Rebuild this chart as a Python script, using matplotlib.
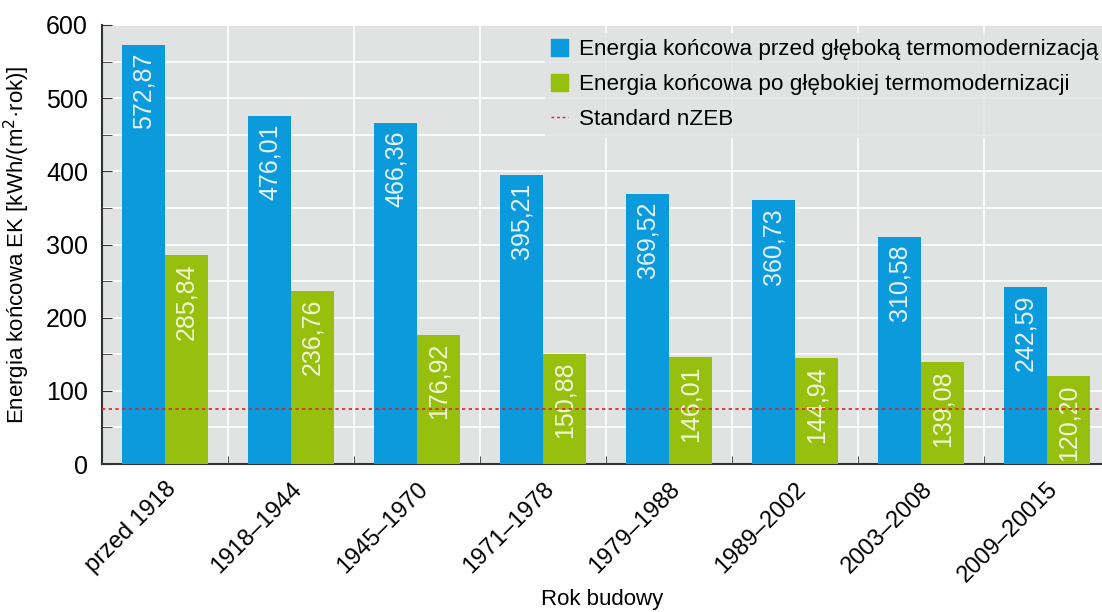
import matplotlib
matplotlib.use("Agg")
import matplotlib.pyplot as plt
import numpy as np
from matplotlib.ticker import MultipleLocator
from matplotlib.patches import Patch
from matplotlib.lines import Line2D

categories = ["przed 1918", "1918–1944", "1945–1970", "1971–1978", "1979–1988",
              "1989–2002", "2003–2008", "2009–20015"]
before = [572.87, 476.01, 466.36, 395.21, 369.52, 360.73, 310.58, 242.59]
after = [285.84, 236.76, 176.92, 150.88, 146.01, 144.94, 139.08, 120.20]
nzeb = 75

labels_series = ["Energia końcowa przed głęboką termomodernizacją",
                 "Energia końcowa po głębokiej termomodernizacji",
                 "Standard nZEB"]

plt.rcParams['font.family'] = ['Liberation Sans', 'DejaVu Sans']

blue = "#0B9ADB"
green = "#97BF0D"
bg = "#E1E2E2"

fig = plt.figure(figsize=(11.02, 6.12), dpi=100)
W, H = 1102, 612
x0, x1 = 102, 1102
y0, y1 = 464, 25
ax = fig.add_axes([x0 / W, 1 - y0 / H, (x1 - x0) / W, (y0 - y1) / H])
ax.set_facecolor(bg)

x = np.arange(len(categories))
bw = 0.34
ax.bar(x - bw / 2, before, bw, color=blue, zorder=3)
ax.bar(x + bw / 2, after, bw, color=green, zorder=3)

for xi, v in zip(x, before):
    ax.text(xi - bw / 2, v - 11, f"{v:.2f}".replace(".", ","), rotation=90,
            ha="center", va="top", color="#E3F3FB", fontsize=18, zorder=4)
for xi, v in zip(x, after):
    ax.text(xi + bw / 2, v - 11, f"{v:.2f}".replace(".", ","), rotation=90,
            ha="center", va="top", color="#F1F6D6", fontsize=18, zorder=4)

ax.axhline(nzeb, color="#D8232A", linestyle=(0, (2, 2)), linewidth=1.2, zorder=5)

ax.set_ylim(0, 600)
ax.set_xlim(-0.5, 7.5 - 8 / 126)
ax.yaxis.set_major_locator(MultipleLocator(100))
ax.yaxis.set_minor_locator(MultipleLocator(50))
ax.set_xticks(x)
ax.set_xticks(np.arange(0.5, 7.5, 1), minor=True)
ax.set_xticklabels(categories, rotation=45, ha="right", rotation_mode="anchor", fontsize=17)
ax.tick_params(axis="x", which="major", length=0, pad=10)
ax.tick_params(axis="x", which="minor", direction="in", length=6, color="#333333")
ax.tick_params(axis="y", which="both", direction="in", length=7, labelsize=18,
               color="#333333", pad=10)
ax.grid(True, axis="y", which="both", color="white", linewidth=1.2, zorder=1)
ax.grid(True, axis="x", which="minor", color="white", linewidth=1.2, zorder=1)
ax.set_axisbelow(True)

for s in ["top", "right"]:
    ax.spines[s].set_visible(False)
for s in ["left", "bottom"]:
    ax.spines[s].set_color("#333333")
    ax.spines[s].set_linewidth(1.5)

ax.set_ylabel("Energia końcowa EK [kWh/(m$^2$·rok)]", fontsize=16, labelpad=10)
ax.set_xlabel("Rok budowy", fontsize=16, labelpad=2)
ax.xaxis.set_label_coords(0.5, -(600 - 464) / 439, transform=ax.transAxes)
ax.xaxis.label.set_va("center")

handles = [Patch(color=blue), Patch(color=green),
           Line2D([0], [0], color="#D8232A", linestyle=(0, (2, 2)), linewidth=1)]
leg = ax.legend(handles, labels_series, loc="upper right",
                bbox_to_anchor=(1.0 + 8 / 1000, 1.0 - 3 / 439),
                frameon=True, facecolor=bg, edgecolor=bg, fontsize=16.2,
                handlelength=0.75, handleheight=0.75, handletextpad=0.5,
                borderaxespad=0.2, borderpad=0.3, labelspacing=0.62)
leg.legend_handles[2].set_linewidth(1)

fig.savefig("out.png", dpi=100)
